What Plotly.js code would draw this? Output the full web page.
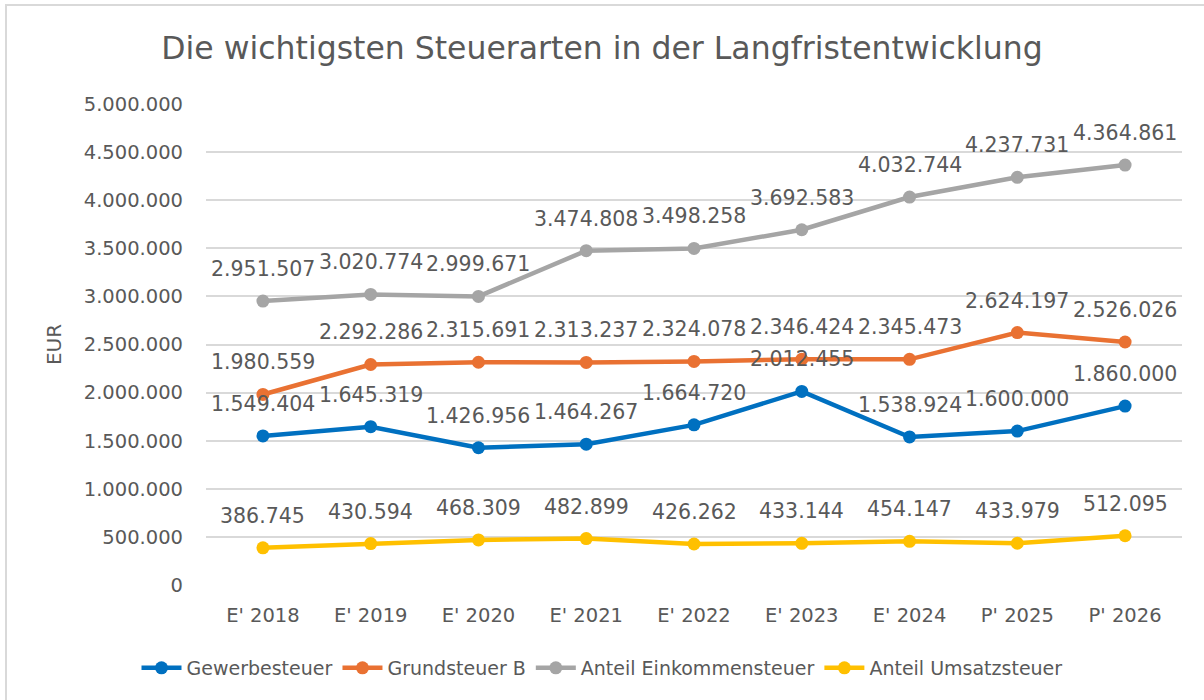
<!DOCTYPE html>
<html>
<head>
<meta charset="utf-8">
<script src="https://cdn.plot.ly/plotly-3.0.1.min.js"></script>
<style>
  html, body { margin: 0; padding: 0; background: #ffffff; }
  #frame { position: absolute; left: 5px; top: 4px; width: 1220px; height: 720px; border: 2px solid #d9d9d9; box-sizing: border-box; }
  #chart { position: absolute; left: 0; top: 0; width: 1204px; height: 700px; }
</style>
</head>
<body>
<div id="frame"></div>
<div id="chart"></div>
<script>
const categories = ["E' 2018", "E' 2019", "E' 2020", "E' 2021", "E' 2022", "E' 2023", "E' 2024", "P' 2025", "P' 2026"];
const gewerbesteuer = [1549404, 1645319, 1426956, 1464267, 1664720, 2012455, 1538924, 1600000, 1860000];
const grundsteuerB = [1980559, 2292286, 2315691, 2313237, 2324078, 2346424, 2345473, 2624197, 2526026];
const einkommensteuer = [2951507, 3020774, 2999671, 3474808, 3498258, 3692583, 4032744, 4237731, 4364861];
const umsatzsteuer = [386745, 430594, 468309, 482899, 426262, 433144, 454147, 433979, 512095];
const yTicks = [0, 500000, 1000000, 1500000, 2000000, 2500000, 3000000, 3500000, 4000000, 4500000, 5000000];

const FONT = "DejaVu Sans, sans-serif";
const TXT = "#595959";

const series = [
  { name: "Gewerbesteuer", y: gewerbesteuer, color: "#0070C0" },
  { name: "Grundsteuer B", y: grundsteuerB, color: "#E97132" },
  { name: "Anteil Einkommensteuer", y: einkommensteuer, color: "#A5A5A5" },
  { name: "Anteil Umsatzsteuer", y: umsatzsteuer, color: "#FFC000" }
];

function fmt(v) {
  return String(v).replace(/\B(?=(\d{3})+(?!\d))/g, ".");
}

const traces = series.map(s => ({
  type: "scatter",
  mode: "lines+markers",
  name: s.name,
  x: categories,
  y: s.y,
  line: { color: s.color, width: 4.5 },
  marker: { color: s.color, size: 13 },
  hoverinfo: "skip"
}));

const annotations = [];
series.forEach(s => {
  s.y.forEach((v, i) => {
    annotations.push({
      x: categories[i], y: v, xref: "x", yref: "y",
      text: fmt(v), showarrow: false, yshift: 32,
      font: { family: FONT, size: 20.5, color: TXT }
    });
  });
});

const layout = {
  width: 1204, height: 700,
  paper_bgcolor: "rgba(0,0,0,0)",
  plot_bgcolor: "rgba(0,0,0,0)",
  separators: ",.",
  margin: { l: 206, r: 22, t: 104, b: 115 },
  title: {
    text: "Die wichtigsten Steuerarten in der Langfristentwicklung",
    font: { family: FONT, size: 31.5, color: TXT },
    x: 0.5, xanchor: "center", xref: "container",
    y: 1 - 48 / 700, yanchor: "middle", yref: "container"
  },
  xaxis: {
    type: "category",
    tickfont: { family: FONT, size: 19.5, color: TXT },
    showgrid: false, zeroline: false, showline: false,
    ticks: "", ticklabelstandoff: 16
  },
  yaxis: {
    range: [0, 5000000],
    tickvals: yTicks,
    ticktext: yTicks.map(fmt),
    tickfont: { family: FONT, size: 19.5, color: TXT },
    showgrid: true, gridcolor: "#d9d9d9", gridwidth: 2,
    zeroline: false, showline: false, ticks: "",
    ticklabelstandoff: 22,
    title: { text: "EUR", font: { family: FONT, size: 20, color: TXT }, standoff: 16 }
  },
  showlegend: true,
  legend: {
    orientation: "h", x: 0.5, xanchor: "center", xref: "container",
    y: 32 / 700, yanchor: "middle", yref: "container",
    font: { family: FONT, size: 19, color: TXT },
    itemwidth: 40, tracegroupgap: 0
  },
  annotations: annotations
};

Plotly.newPlot("chart", traces, layout, { displayModeBar: false, staticPlot: true });
</script>
</body>
</html>
